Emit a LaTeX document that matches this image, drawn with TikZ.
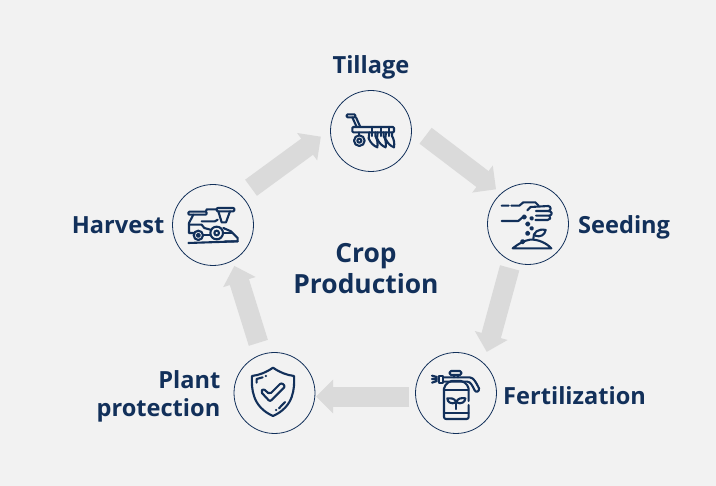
\documentclass[tikz,border=0pt]{standalone}
\usepackage{fontspec}
\setmainfont{Open Sans}
\usetikzlibrary{positioning,arrows.meta}
\definecolor{navy}{HTML}{12305A}
\definecolor{paper}{HTML}{F2F2F2}
\definecolor{flowgray}{HTML}{DADADA}

\begin{document}
\begin{tikzpicture}[
  x=1pt,y=-1pt,
  node distance=8pt,
  stage/.style={
    draw=navy,
    circle,
    line width=.8pt,
    inner sep=0pt,
    outer sep=0pt,
    minimum size=81pt,
  },
  caption/.style={
    text=navy,
    align=center,
    inner sep=0pt,
    font=\fontsize{23.6}{28}\selectfont\bfseries,
  },
  flow/.style={
    draw=flowgray,
    line width=20pt,
    -{Triangle[length=17pt,width=33pt]},
  },
  icon/.style={
    draw=navy,
    line width=2.1pt,
    line cap=round,
    line join=round,
  },
  ]
  \fill[paper] (0,0) rectangle (716,486);
  \useasboundingbox (0,0) rectangle (716,486);

  \node[stage](tillage) at (371,131){};
  \node[stage](seeding) at (528,224){};
  \node[stage](fertilization) at (456,393){};
  \node[stage](protection) at (274.5,393){};
  \node[stage](harvest) at (213,225){};

  \node[caption,above=11.5pt of tillage](tillagetext){Tillage};
  \node[caption,right=9.5pt of seeding,yshift=-3pt](seedingtext){Seeding};
  \node[caption,right=6.5pt of fertilization,yshift=-3pt](fertilizationtext){Fertilization};
  \node[caption,left=13.5pt of protection,align=right,yshift=-3pt](protectiontext){Plant\\protection};
  \node[caption,left=8.5pt of harvest,xshift=.5pt](harvesttext){Harvest};
  \node[caption,font=\fontsize{26.4}{31.5}\selectfont\bfseries] (croptext) at (366,268.5){Crop\\Production};

  \draw[flow,shorten <=18.3pt,shorten >=6.8pt] (tillage.9.7) -- (seeding.131.1);
  \draw[flow,shorten <=7.1pt,shorten >=11.9pt] (seeding.246.7) -- (fertilization.47.7);
  \draw[flow,shorten <=6.4pt,shorten >=1.2pt] (fertilization.185.6) -- (protection.-5.6);
  \draw[flow,shorten <=12.2pt,shorten >=5.7pt] (protection.108.8) -- (harvest.-61.6);
  \draw[flow,shorten <=12.9pt,shorten >=12pt] (harvest.47.4) -- (tillage.178.5);

  % tillage
  \begin{scope}[shift={(320,80)},scale=1/3]
    \draw[icon,rounded corners=1pt] (80,103) rectangle (106,112);
    \draw[icon] (97,112) -- (110,141) (108,112) -- (121,141);
    \draw[icon,rounded corners=1pt] (97,141) rectangle (222,157);
    \draw[icon] (118,157) -- (118,167);
    \draw[icon] (118,182) circle (16) (118,182) circle (6);
    \foreach \bx in {0,25,50}{
      \draw[icon] (\bx+148,157) -- (\bx+146,175) .. controls (\bx+152,190) and (\bx+162,198) .. (\bx+172,202)
        .. controls (\bx+174,190) and (\bx+172,178) .. (\bx+166,168) -- (\bx+166,157);
      \draw[icon] (\bx+157,141) -- (\bx+157,168);
    }
  \end{scope}

  % seeding
  \begin{scope}[shift={(480,175)},scale=1/3]
    \draw[icon] (65,92) -- (86,92) (94,92) -- (118,92) -- (130,82) -- (166,82) -- (176,92);
    \draw[icon] (65,138) -- (115,138) -- (130,125);
    \draw[icon] (142,106) -- (152,96) -- (205,93) .. controls (214,94) and (214,107) .. (205,108) -- (168,108);
    \draw[icon] (205,108) .. controls (218,109) and (218,120) .. (208,122) -- (168,122);
    \draw[icon] (208,122) .. controls (214,127) and (211,135) .. (203,135) -- (166,135);
    \foreach \sx/\sy/\sr in {133/126/5,155/130/4,143/147/5,155/160/4,143/175/5,128/200/5}{
      \draw[icon] (\sx,\sy) circle (\sr);
    }
    \draw[icon] (160,192) .. controls (158,172) and (175,160) .. (197,165)
      .. controls (195,180) and (180,188) .. (166,182);
    \draw[icon] (98,220) -- (214,220) .. controls (200,205) and (175,192) .. (150,194) .. controls (130,197) and (115,207) .. (98,220);
  \end{scope}

  % fertilization
  \begin{scope}[shift={(408,345)},scale=1/3]
    \draw[icon,rounded corners=2pt] (182,168) -- (182,125) -- (165,108) -- (125,108) -- (108,125) -- (108,222) -- (182,222) -- (182,180);
    \draw[icon] (108,205) -- (182,205) (108,135) -- (182,135);
    \draw[icon,rounded corners=1.5pt] (125,78) rectangle (160,90);
    \draw[icon] (137,90) -- (137,97) (150,90) -- (150,97);
    \draw[icon] (93,92) rectangle (105,113);
    \draw[icon] (105,97) -- (185,97) .. controls (197,98) and (204,112) .. (213,130)
      .. controls (215,140) and (204,144) .. (200,136) .. controls (194,124) and (188,110) .. (178,110) -- (105,110);
    \draw[icon] (72,92) -- (87,96) (72,102) -- (87,102) (72,113) -- (87,108);
    \draw[icon] (145,192) -- (145,170);
    \draw[icon] (145,170) .. controls (138,160) and (128,158) .. (118,160) .. controls (118,170) and (128,180) .. (145,172);
    \draw[icon] (145,170) .. controls (150,160) and (160,158) .. (172,160) .. controls (172,170) and (160,180) .. (145,172);
  \end{scope}

  % plant protection
  \begin{scope}[shift={(228,345)},scale=1/3]
    \draw[icon] (135,68) .. controls (115,82) and (95,90) .. (72,93) .. controls (70,130) and (72,185) .. (135,213)
      .. controls (198,185) and (200,130) .. (198,93) .. controls (175,90) and (155,82) .. (135,68) -- cycle;
    \draw[icon] (86,113) -- (86,102) -- (104,97) (113,93) -- (114,93);
    \draw[icon] (144,195) -- (145,195) (153,190) -- (171,171);
    \draw[icon,rounded corners=2pt] (98,140) -- (106,131) -- (125,148) -- (160,113) -- (172,124) -- (126,170) -- cycle;
  \end{scope}

  % harvest
  \begin{scope}[shift={(165,178)},scale=1/3]
    \draw[icon] (70,195) -- (218,190);
    \draw[icon] (155,165) circle (19) (155,165) circle (7);
    \draw[icon] (100,172) circle (14) (100,172) circle (5);
    \draw[icon,rounded corners=1pt] (70,101) rectangle (125,110);
    \draw[icon,rounded corners=1pt] (155,90) rectangle (208,100);
    \draw[icon] (123,100) -- (125,94) -- (155,94);
    \draw[icon] (160,100) -- (170,133) -- (183,133) -- (195,100);
    \draw[icon] (85,110) -- (72,135) -- (72,165) -- (86,165);
    \draw[icon] (114,172) -- (136,172);
    \draw[icon] (110,130) -- (150,130) -- (158,125);
    \draw[icon] (72,140) -- (110,140) -- (118,150) -- (136,155);
    \draw[icon] (175,150) -- (198,160) -- (218,180) -- (218,190) -- (180,190);
    \draw[icon] (174,165) -- (200,165);
  \end{scope}
\end{tikzpicture}
\end{document}
